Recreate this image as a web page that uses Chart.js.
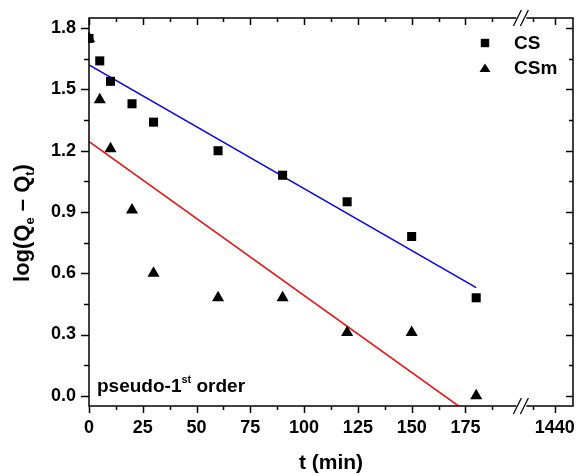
<!DOCTYPE html>
<html>
<head>
<meta charset="utf-8">
<script src="https://cdn.jsdelivr.net/npm/chart.js@4.4.1/dist/chart.umd.min.js"></script>
<style>
	html, body { margin: 0; padding: 0; background: #fff; }
</style>
</head>
<body>
<canvas id="chart" width="576" height="476"></canvas>
<script>
// sampling times (min) and log(Qe - Qt) for both sorbents
const times = [0, 5, 10, 20, 30, 60, 90, 120, 150, 180];
const csLog = [1.75, 1.64, 1.54, 1.43, 1.34, 1.20, 1.08, 0.95, 0.78, 0.48];
const csmLog = [1.75, 1.45, 1.21, 0.91, 0.60, 0.48, 0.48, 0.31, 0.31, 0.00];

// linear fits, given at the ends of the fitted range
const fitTimes = [0, 180];
const csFit = [1.62, 0.53];
const csmFit = [1.245, -0.112];

const xTicks = [0, 25, 50, 75, 100, 125, 150, 175];
const xTickLabels = ['0', '25', '50', '75', '100', '125', '150', '175'];
const lastTickLabel = '1440';
const yTicks = [0, 0.3, 0.6, 0.9, 1.2, 1.5, 1.8];

// the axis is broken after 200 min; 1440 sits just past the break
const BREAK_AT = 201;
const LAST_POS = 216.5;
const X_MAX = 225;

const FONT = '"Liberation Sans", Arial, sans-serif';

function toPoints(xs, ys) {
	return xs.map((x, i) => ({ x, y: ys[i] }));
}

function runsWidth(ctx, runs) {
	let total = 0;
	runs.forEach(r => {
		ctx.font = `bold ${r.size}px ${FONT}`;
		total += ctx.measureText(r.text).width;
	});
	return total;
}

// runs of text with their own size and baseline shift (sub/superscripts)
function drawRuns(ctx, runs, x, y) {
	let cx = x;
	runs.forEach(r => {
		ctx.font = `bold ${r.size}px ${FONT}`;
		ctx.fillText(r.text, cx, y + (r.dy || 0));
		cx += ctx.measureText(r.text).width;
	});
}

const framePlugin = {
	id: 'frame',
	afterDraw(chart) {
		const ctx = chart.ctx;
		const { left, right, top, bottom } = chart.chartArea;
		const xs = chart.scales.x;
		const ys = chart.scales.y;
		ctx.save();
		ctx.strokeStyle = '#000';
		ctx.fillStyle = '#000';
		ctx.lineWidth = 1.5;
		ctx.strokeRect(left, top, right - left, bottom - top);

		const line = (x1, y1, x2, y2) => {
			ctx.beginPath();
			ctx.moveTo(x1, y1);
			ctx.lineTo(x2, y2);
			ctx.stroke();
		};

		// x ticks: outward at the bottom, inward at the top
		const xMajor = xTicks.concat([LAST_POS]);
		const xMinor = [];
		for (let v = 12.5; v < 200; v += 25) xMinor.push(v);
		xMinor.push(LAST_POS - 10);
		xMajor.forEach(v => {
			const p = Math.round(xs.getPixelForValue(v)) + 0.5;
			line(p, bottom, p, bottom + 7);
			line(p, top, p, top + 7);
		});
		xMinor.forEach(v => {
			const p = Math.round(xs.getPixelForValue(v)) + 0.5;
			line(p, bottom, p, bottom + 4);
			line(p, top, p, top + 4);
		});

		// y ticks: outward on the left, inward on the right
		yTicks.forEach(v => {
			const p = Math.round(ys.getPixelForValue(v)) + 0.5;
			line(left - 8, p, left, p);
			line(right - 7, p, right, p);
		});
		for (let v = 0.15; v < 1.85; v += 0.3) {
			const p = Math.round(ys.getPixelForValue(v)) + 0.5;
			line(left - 5, p, left, p);
			line(right - 4, p, right, p);
		}

		// axis break marks
		const bx = xs.getPixelForValue(BREAK_AT);
		[top, bottom].forEach(yy => {
			ctx.fillStyle = '#fff';
			ctx.fillRect(bx - 5, yy - 2, 10, 4);
			ctx.lineWidth = 1.3;
			line(bx - 8, yy + 8, bx, yy - 8);
			line(bx - 1, yy + 8, bx + 7, yy - 8);
		});
		ctx.fillStyle = '#000';

		// y axis title with subscripts
		ctx.textBaseline = 'alphabetic';
		ctx.textAlign = 'left';
		const titleRuns = [
			{ text: 'log(Q', size: 22 },
			{ text: 'e', size: 13, dy: 5 },
			{ text: ' \u2013 Q', size: 22 },
			{ text: 't', size: 13, dy: 5 },
			{ text: ')', size: 22 }
		];
		ctx.save();
		ctx.translate(21, 223);
		ctx.rotate(-Math.PI / 2);
		drawRuns(ctx, titleRuns, -runsWidth(ctx, titleRuns) / 2, 8);
		ctx.restore();

		// model label
		drawRuns(ctx, [
			{ text: 'pseudo-1', size: 19 },
			{ text: 'st', size: 11, dy: -9 },
			{ text: ' order', size: 19 }
		], left + 8, bottom - 14);

		// legend
		const lx = right - 88;
		ctx.fillRect(lx - 4.2, 43 - 4.2, 8.4, 8.4);
		ctx.beginPath();
		ctx.moveTo(lx, 63.5);
		ctx.lineTo(lx + 5.5, 72);
		ctx.lineTo(lx - 5.5, 72);
		ctx.closePath();
		ctx.fill();
		ctx.font = `bold 19px ${FONT}`;
		ctx.textBaseline = 'middle';
		ctx.fillText('CS', lx + 29, 44);
		ctx.fillText('CSm', lx + 29, 69);
		ctx.restore();
	}
};

const ctx = document.getElementById('chart').getContext('2d');
new Chart(ctx, {
	type: 'scatter',
	data: {
		datasets: [
			{
				label: 'CS',
				data: toPoints(times, csLog),
				pointStyle: 'rect',
				pointRadius: 6.4,
				backgroundColor: '#000',
				borderWidth: 0,
				clip: 1
			},
			{
				label: 'CSm',
				data: toPoints(times, csmLog),
				pointStyle: 'triangle',
				pointRadius: 7,
				backgroundColor: '#000',
				borderWidth: 0,
				clip: 1
			},
			{
				label: 'CS fit',
				data: toPoints(fitTimes, csFit),
				showLine: true,
				pointRadius: 0,
				borderColor: '#0000ff',
				borderWidth: 1.5,
				clip: 0
			},
			{
				label: 'CSm fit',
				data: toPoints(fitTimes, csmFit),
				showLine: true,
				pointRadius: 0,
				borderColor: '#ff0000',
				borderWidth: 1.5,
				clip: 0
			}
		]
	},
	options: {
		responsive: false,
		animation: false,
		layout: {
			autoPadding: false,
			padding: { top: 18, right: 3, left: 0, bottom: 0 }
		},
		plugins: {
			legend: { display: false },
			tooltip: { enabled: false }
		},
		scales: {
			x: {
				type: 'linear',
				min: 0,
				max: X_MAX,
				grid: { display: false, drawTicks: false },
				border: { display: false },
				afterBuildTicks: s => {
					s.ticks = xTicks.concat([LAST_POS]).map(v => ({ value: v }));
				},
				afterFit: s => {
					s.height = 70;
					s.paddingLeft = 0;
					s.paddingRight = 0;
				},
				ticks: {
					autoSkip: false,
					maxRotation: 0,
					padding: 11,
					color: '#000',
					font: { family: FONT, size: 18, weight: 'bold' },
					callback: v => {
						const i = xTicks.indexOf(v);
						return i >= 0 ? xTickLabels[i] : lastTickLabel;
					}
				},
				title: {
					display: true,
					text: 't (min)',
					color: '#000',
					font: { family: FONT, size: 21, weight: 'bold' },
					padding: { top: 0, bottom: 0 }
				}
			},
			y: {
				min: -0.05,
				max: 1.85,
				grid: { display: false, drawTicks: false },
				border: { display: false },
				afterBuildTicks: s => {
					s.ticks = yTicks.map(v => ({ value: v }));
				},
				afterFit: s => {
					s.width = 89;
					s.paddingTop = 0;
					s.paddingBottom = 0;
				},
				ticks: {
					padding: 13,
					color: '#000',
					font: { family: FONT, size: 18, weight: 'bold' },
					callback: v => v.toFixed(1)
				}
			}
		}
	},
	plugins: [framePlugin]
});
</script>
</body>
</html>
